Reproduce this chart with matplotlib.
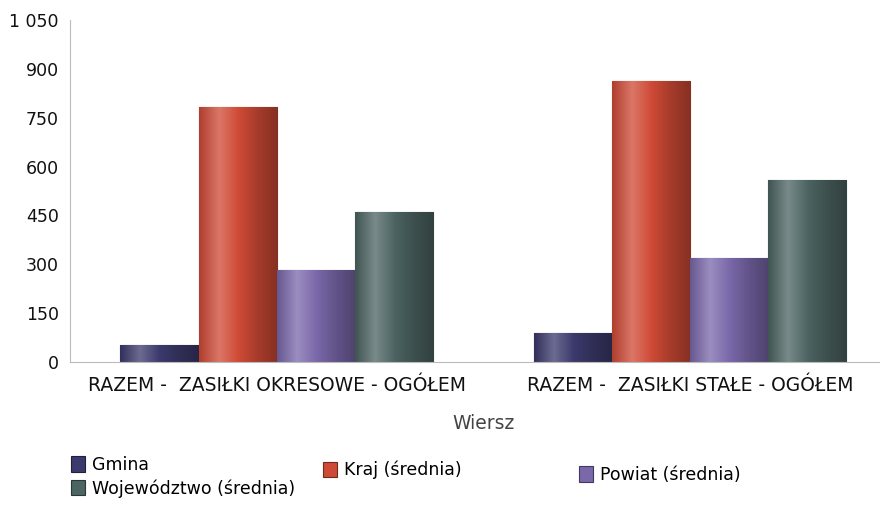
import matplotlib
matplotlib.use("Agg")
import matplotlib.pyplot as plt
import numpy as np
from matplotlib.colors import LinearSegmentedColormap, to_rgb

categories = ["RAZEM -  ZASIŁKI OKRESOWE - OGÓŁEM", "RAZEM -  ZASIŁKI STAŁE - OGÓŁEM"]
series_names = ["Gmina", "Kraj (średnia)", "Powiat (średnia)", "Województwo (średnia)"]
gmina = [52, 89]
kraj = [783, 863]
powiat = [282, 318]
wojewodztwo = [459, 560]
y_ticks = [0, 150, 300, 450, 600, 750, 900, 1050]
y_tick_labels = ["0", "150", "300", "450", "600", "750", "900", "1 050"]

colors = ["#3c3a6c", "#cf4a36", "#7a68aa", "#4c6462"]

plt.rcParams["font.family"] = ["DejaVu Sans"]


def shade(c, f):
    r, g, b = to_rgb(c)
    if f >= 1:
        return (r + (1 - r) * (f - 1), g + (1 - g) * (f - 1), b + (1 - b) * (f - 1))
    return (r * f, g * f, b * f)


fig = plt.figure(figsize=(8.8, 5.05), dpi=100)
ax = fig.add_axes([70 / 880, 1 - 362 / 505, 826.5 / 880, 342 / 505])

x = np.arange(len(categories))
width = 0.189
values = [gmina, kraj, powiat, wojewodztwo]
handles = []
grad = np.linspace(0, 1, 64).reshape(1, -1)
for i, (name, vals) in enumerate(zip(series_names, values)):
    offset = (i - 1.5) * width
    bars = ax.bar(x + offset, vals, width, color=colors[i], edgecolor=shade(colors[i], 0.55),
                  linewidth=0.8, label=name)
    handles.append(bars)
    # cylinder-like shading across each bar
    cmap = LinearSegmentedColormap.from_list(
        "bar%d" % i,
        [shade(colors[i], 0.85), shade(colors[i], 1.25), shade(colors[i], 1.0),
         shade(colors[i], 0.8), shade(colors[i], 0.65)])
    for bar in bars:
        bx, by = bar.get_x(), bar.get_y()
        bw, bh = bar.get_width(), bar.get_height()
        img = ax.imshow(grad, cmap=cmap, aspect="auto", extent=[bx, bx + bw, by, by + bh],
                        zorder=bar.get_zorder(), interpolation="bicubic")
        img.set_clip_path(bar)

ax.set_xlim(-0.5, 1.5)
ax.set_ylim(0, 1050)
ax.set_yticks(y_ticks)
ax.set_yticklabels(y_tick_labels, fontsize=12.5, color="#111111")
ax.set_xticks(x)
ax.set_xticklabels(categories, fontsize=13.5, color="#111111")
ax.tick_params(axis="both", length=0, pad=8)
ax.tick_params(axis="x", pad=10)
ax.set_xlabel("Wiersz", fontsize=13.5, color="#444444", labelpad=14)

for side in ["top", "right"]:
    ax.spines[side].set_visible(False)
ax.spines["left"].set_color("#bbbbbb")
ax.spines["bottom"].set_color("#bbbbbb")

leg_kw = dict(frameon=False, fontsize=12.5, handlelength=0.8, handleheight=1.0,
              handletextpad=0.4, labelspacing=0.3, borderaxespad=0, loc="upper left")
fig.legend([handles[0], handles[3]], [series_names[0], series_names[3]],
           bbox_to_anchor=(64 / 880, 1 - 449 / 505), **leg_kw)
fig.legend([handles[1]], [series_names[1]],
           bbox_to_anchor=(316 / 880, 1 - 454 / 505), **leg_kw)
fig.legend([handles[2]], [series_names[2]],
           bbox_to_anchor=(572 / 880, 1 - 459 / 505), **leg_kw)

fig.savefig("out.png", dpi=100)
